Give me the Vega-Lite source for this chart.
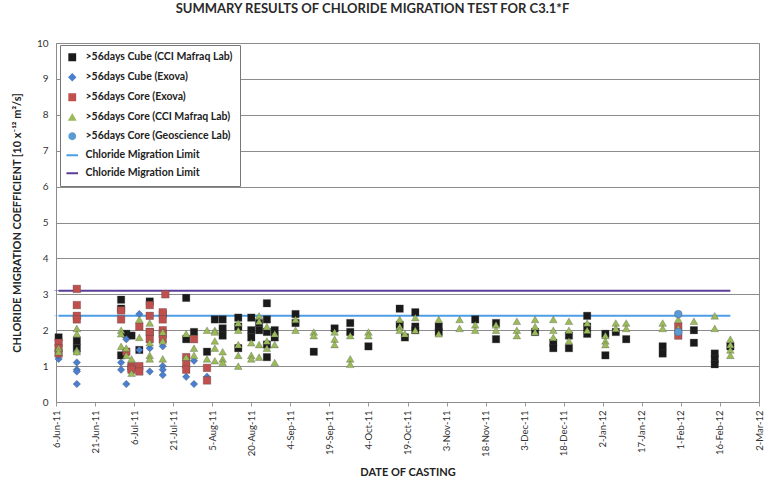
{
  "$schema": "https://vega.github.io/schema/vega-lite/v6.json",
  "width": 703,
  "height": 359,
  "autosize": "none",
  "padding": {"left": 56, "top": 43, "right": 18, "bottom": 80},
  "background": "white",
  "config": {
    "font": "Lato",
    "view": {"stroke": "#8c8c8c", "strokeWidth": 1},
    "axis": {"labelFont": "Lato", "titleFont": "Lato", "labelColor": "#333", "titleColor": "#222"}
  },
  "title": {
    "text": "SUMMARY RESULTS OF CHLORIDE MIGRATION TEST FOR C3.1*F",
    "fontSize": 13,
    "fontWeight": "bold",
    "color": "#2a2a2a",
    "anchor": "middle",
    "dx": -35,
    "offset": 22
  },
  "datasets": {
    "pts": [
      {"d": "2011-06-07", "v": 1.8, "s": "A"},
      {"d": "2011-06-14", "v": 1.7, "s": "A"},
      {"d": "2011-06-14", "v": 1.5, "s": "A"},
      {"d": "2011-07-01", "v": 2.85, "s": "A"},
      {"d": "2011-07-01", "v": 2.6, "s": "A"},
      {"d": "2011-07-01", "v": 1.3, "s": "A"},
      {"d": "2011-07-03", "v": 1.9, "s": "A"},
      {"d": "2011-07-05", "v": 1.85, "s": "A"},
      {"d": "2011-07-08", "v": 1.45, "s": "A"},
      {"d": "2011-07-12", "v": 2.8, "s": "A"},
      {"d": "2011-07-12", "v": 1.95, "s": "A"},
      {"d": "2011-07-17", "v": 2.45, "s": "A"},
      {"d": "2011-07-26", "v": 2.9, "s": "A"},
      {"d": "2011-07-26", "v": 1.75, "s": "A"},
      {"d": "2011-07-29", "v": 1.95, "s": "A"},
      {"d": "2011-08-03", "v": 1.4, "s": "A"},
      {"d": "2011-08-06", "v": 2.3, "s": "A"},
      {"d": "2011-08-09", "v": 2.3, "s": "A"},
      {"d": "2011-08-09", "v": 2.05, "s": "A"},
      {"d": "2011-08-09", "v": 1.85, "s": "A"},
      {"d": "2011-08-15", "v": 2.35, "s": "A"},
      {"d": "2011-08-15", "v": 2.1, "s": "A"},
      {"d": "2011-08-15", "v": 1.5, "s": "A"},
      {"d": "2011-08-20", "v": 2.35, "s": "A"},
      {"d": "2011-08-20", "v": 2.0, "s": "A"},
      {"d": "2011-08-20", "v": 1.8, "s": "A"},
      {"d": "2011-08-23", "v": 2.2, "s": "A"},
      {"d": "2011-08-23", "v": 2.0, "s": "A"},
      {"d": "2011-08-26", "v": 2.75, "s": "A"},
      {"d": "2011-08-26", "v": 2.3, "s": "A"},
      {"d": "2011-08-26", "v": 1.95, "s": "A"},
      {"d": "2011-08-26", "v": 1.6, "s": "A"},
      {"d": "2011-08-26", "v": 1.25, "s": "A"},
      {"d": "2011-08-29", "v": 2.0, "s": "A"},
      {"d": "2011-08-29", "v": 1.8, "s": "A"},
      {"d": "2011-09-06", "v": 2.45, "s": "A"},
      {"d": "2011-09-06", "v": 2.2, "s": "A"},
      {"d": "2011-09-13", "v": 1.4, "s": "A"},
      {"d": "2011-09-21", "v": 2.05, "s": "A"},
      {"d": "2011-09-27", "v": 2.2, "s": "A"},
      {"d": "2011-09-27", "v": 1.95, "s": "A"},
      {"d": "2011-10-04", "v": 1.55, "s": "A"},
      {"d": "2011-10-16", "v": 2.6, "s": "A"},
      {"d": "2011-10-16", "v": 2.15, "s": "A"},
      {"d": "2011-10-18", "v": 1.8, "s": "A"},
      {"d": "2011-10-22", "v": 2.5, "s": "A"},
      {"d": "2011-10-22", "v": 2.1, "s": "A"},
      {"d": "2011-10-22", "v": 2.0, "s": "A"},
      {"d": "2011-10-31", "v": 2.1, "s": "A"},
      {"d": "2011-10-31", "v": 1.95, "s": "A"},
      {"d": "2011-11-14", "v": 2.3, "s": "A"},
      {"d": "2011-11-22", "v": 2.2, "s": "A"},
      {"d": "2011-11-22", "v": 1.75, "s": "A"},
      {"d": "2011-12-07", "v": 1.95, "s": "A"},
      {"d": "2011-12-14", "v": 1.65, "s": "A"},
      {"d": "2011-12-14", "v": 1.5, "s": "A"},
      {"d": "2011-12-20", "v": 1.85, "s": "A"},
      {"d": "2011-12-20", "v": 1.5, "s": "A"},
      {"d": "2011-12-27", "v": 2.4, "s": "A"},
      {"d": "2011-12-27", "v": 2.1, "s": "A"},
      {"d": "2011-12-27", "v": 1.9, "s": "A"},
      {"d": "2012-01-03", "v": 1.9, "s": "A"},
      {"d": "2012-01-03", "v": 1.3, "s": "A"},
      {"d": "2012-01-07", "v": 1.95, "s": "A"},
      {"d": "2012-01-11", "v": 1.75, "s": "A"},
      {"d": "2012-01-25", "v": 1.55, "s": "A"},
      {"d": "2012-01-25", "v": 1.35, "s": "A"},
      {"d": "2012-02-06", "v": 2.0, "s": "A"},
      {"d": "2012-02-06", "v": 1.65, "s": "A"},
      {"d": "2012-02-14", "v": 1.35, "s": "A"},
      {"d": "2012-02-14", "v": 1.2, "s": "A"},
      {"d": "2012-02-14", "v": 1.05, "s": "A"},
      {"d": "2012-02-20", "v": 1.55, "s": "A"},

      {"d": "2011-06-07", "v": 1.2, "s": "B"},
      {"d": "2011-06-07", "v": 1.3, "s": "B"},
      {"d": "2011-06-14", "v": 1.4, "s": "B"},
      {"d": "2011-06-14", "v": 1.1, "s": "B"},
      {"d": "2011-06-14", "v": 0.9, "s": "B"},
      {"d": "2011-06-14", "v": 0.85, "s": "B"},
      {"d": "2011-06-14", "v": 0.5, "s": "B"},
      {"d": "2011-07-01", "v": 1.1, "s": "B"},
      {"d": "2011-07-01", "v": 0.9, "s": "B"},
      {"d": "2011-07-03", "v": 1.75, "s": "B"},
      {"d": "2011-07-03", "v": 0.5, "s": "B"},
      {"d": "2011-07-08", "v": 2.45, "s": "B"},
      {"d": "2011-07-08", "v": 1.45, "s": "B"},
      {"d": "2011-07-12", "v": 1.5, "s": "B"},
      {"d": "2011-07-12", "v": 0.85, "s": "B"},
      {"d": "2011-07-17", "v": 1.55, "s": "B"},
      {"d": "2011-07-17", "v": 1.0, "s": "B"},
      {"d": "2011-07-17", "v": 0.9, "s": "B"},
      {"d": "2011-07-17", "v": 0.75, "s": "B"},
      {"d": "2011-07-26", "v": 0.7, "s": "B"},
      {"d": "2011-07-29", "v": 1.15, "s": "B"},
      {"d": "2011-07-29", "v": 0.5, "s": "B"},
      {"d": "2011-08-03", "v": 0.7, "s": "B"},

      {"d": "2011-06-07", "v": 1.65, "s": "C"},
      {"d": "2011-06-07", "v": 1.5, "s": "C"},
      {"d": "2011-06-07", "v": 1.35, "s": "C"},
      {"d": "2011-06-14", "v": 3.15, "s": "C"},
      {"d": "2011-06-14", "v": 2.7, "s": "C"},
      {"d": "2011-06-14", "v": 2.4, "s": "C"},
      {"d": "2011-06-14", "v": 2.3, "s": "C"},
      {"d": "2011-07-01", "v": 2.55, "s": "C"},
      {"d": "2011-07-01", "v": 2.3, "s": "C"},
      {"d": "2011-07-03", "v": 1.4, "s": "C"},
      {"d": "2011-07-05", "v": 1.0, "s": "C"},
      {"d": "2011-07-05", "v": 0.95, "s": "C"},
      {"d": "2011-07-05", "v": 0.9, "s": "C"},
      {"d": "2011-07-08", "v": 2.1, "s": "C"},
      {"d": "2011-07-08", "v": 1.0, "s": "C"},
      {"d": "2011-07-08", "v": 0.85, "s": "C"},
      {"d": "2011-07-12", "v": 2.7, "s": "C"},
      {"d": "2011-07-12", "v": 2.4, "s": "C"},
      {"d": "2011-07-12", "v": 1.95, "s": "C"},
      {"d": "2011-07-12", "v": 1.75, "s": "C"},
      {"d": "2011-07-17", "v": 2.5, "s": "C"},
      {"d": "2011-07-17", "v": 2.3, "s": "C"},
      {"d": "2011-07-17", "v": 2.0, "s": "C"},
      {"d": "2011-07-17", "v": 1.9, "s": "C"},
      {"d": "2011-07-17", "v": 1.75, "s": "C"},
      {"d": "2011-07-18", "v": 3.0, "s": "C"},
      {"d": "2011-07-26", "v": 1.25, "s": "C"},
      {"d": "2011-07-26", "v": 1.05, "s": "C"},
      {"d": "2011-07-26", "v": 0.9, "s": "C"},
      {"d": "2011-07-29", "v": 1.75, "s": "C"},
      {"d": "2011-08-03", "v": 0.95, "s": "C"},
      {"d": "2011-08-03", "v": 0.6, "s": "C"},
      {"d": "2012-01-31", "v": 2.1, "s": "C"},
      {"d": "2012-01-31", "v": 1.85, "s": "C"},

      {"d": "2011-06-07", "v": 1.5, "s": "D"},
      {"d": "2011-06-07", "v": 1.4, "s": "D"},
      {"d": "2011-06-14", "v": 2.05, "s": "D"},
      {"d": "2011-06-14", "v": 1.9, "s": "D"},
      {"d": "2011-06-14", "v": 1.45, "s": "D"},
      {"d": "2011-06-14", "v": 1.4, "s": "D"},
      {"d": "2011-07-01", "v": 2.0, "s": "D"},
      {"d": "2011-07-01", "v": 1.9, "s": "D"},
      {"d": "2011-07-01", "v": 1.55, "s": "D"},
      {"d": "2011-07-03", "v": 1.5, "s": "D"},
      {"d": "2011-07-03", "v": 1.3, "s": "D"},
      {"d": "2011-07-05", "v": 0.8, "s": "D"},
      {"d": "2011-07-05", "v": 1.2, "s": "D"},
      {"d": "2011-07-08", "v": 2.3, "s": "D"},
      {"d": "2011-07-08", "v": 1.8, "s": "D"},
      {"d": "2011-07-12", "v": 2.2, "s": "D"},
      {"d": "2011-07-12", "v": 1.65, "s": "D"},
      {"d": "2011-07-12", "v": 1.3, "s": "D"},
      {"d": "2011-07-12", "v": 1.2, "s": "D"},
      {"d": "2011-07-17", "v": 1.95, "s": "D"},
      {"d": "2011-07-17", "v": 1.7, "s": "D"},
      {"d": "2011-07-17", "v": 1.2, "s": "D"},
      {"d": "2011-07-26", "v": 1.9, "s": "D"},
      {"d": "2011-07-26", "v": 1.25, "s": "D"},
      {"d": "2011-07-29", "v": 1.5, "s": "D"},
      {"d": "2011-07-29", "v": 1.3, "s": "D"},
      {"d": "2011-08-03", "v": 2.0, "s": "D"},
      {"d": "2011-08-03", "v": 1.2, "s": "D"},
      {"d": "2011-08-06", "v": 2.0, "s": "D"},
      {"d": "2011-08-06", "v": 1.95, "s": "D"},
      {"d": "2011-08-06", "v": 1.7, "s": "D"},
      {"d": "2011-08-06", "v": 1.5, "s": "D"},
      {"d": "2011-08-06", "v": 1.15, "s": "D"},
      {"d": "2011-08-09", "v": 1.4, "s": "D"},
      {"d": "2011-08-09", "v": 1.2, "s": "D"},
      {"d": "2011-08-09", "v": 1.1, "s": "D"},
      {"d": "2011-08-15", "v": 2.2, "s": "D"},
      {"d": "2011-08-15", "v": 2.0, "s": "D"},
      {"d": "2011-08-15", "v": 1.6, "s": "D"},
      {"d": "2011-08-15", "v": 1.3, "s": "D"},
      {"d": "2011-08-15", "v": 1.0, "s": "D"},
      {"d": "2011-08-20", "v": 1.65, "s": "D"},
      {"d": "2011-08-20", "v": 1.3, "s": "D"},
      {"d": "2011-08-20", "v": 1.2, "s": "D"},
      {"d": "2011-08-23", "v": 2.4, "s": "D"},
      {"d": "2011-08-23", "v": 2.25, "s": "D"},
      {"d": "2011-08-23", "v": 1.6, "s": "D"},
      {"d": "2011-08-23", "v": 1.25, "s": "D"},
      {"d": "2011-08-26", "v": 2.1, "s": "D"},
      {"d": "2011-08-26", "v": 1.7, "s": "D"},
      {"d": "2011-08-26", "v": 1.5, "s": "D"},
      {"d": "2011-08-29", "v": 1.9, "s": "D"},
      {"d": "2011-08-29", "v": 1.6, "s": "D"},
      {"d": "2011-08-29", "v": 1.1, "s": "D"},
      {"d": "2011-09-06", "v": 2.3, "s": "D"},
      {"d": "2011-09-06", "v": 2.0, "s": "D"},
      {"d": "2011-09-13", "v": 1.95, "s": "D"},
      {"d": "2011-09-13", "v": 1.85, "s": "D"},
      {"d": "2011-09-21", "v": 1.95, "s": "D"},
      {"d": "2011-09-21", "v": 1.75, "s": "D"},
      {"d": "2011-09-21", "v": 1.6, "s": "D"},
      {"d": "2011-09-27", "v": 1.85, "s": "D"},
      {"d": "2011-09-27", "v": 1.2, "s": "D"},
      {"d": "2011-09-27", "v": 1.05, "s": "D"},
      {"d": "2011-10-04", "v": 1.95, "s": "D"},
      {"d": "2011-10-04", "v": 1.85, "s": "D"},
      {"d": "2011-10-16", "v": 2.3, "s": "D"},
      {"d": "2011-10-16", "v": 2.1, "s": "D"},
      {"d": "2011-10-16", "v": 2.0, "s": "D"},
      {"d": "2011-10-18", "v": 1.9, "s": "D"},
      {"d": "2011-10-22", "v": 2.35, "s": "D"},
      {"d": "2011-10-22", "v": 2.0, "s": "D"},
      {"d": "2011-10-31", "v": 2.3, "s": "D"},
      {"d": "2011-10-31", "v": 1.9, "s": "D"},
      {"d": "2011-11-08", "v": 2.3, "s": "D"},
      {"d": "2011-11-08", "v": 2.05, "s": "D"},
      {"d": "2011-11-14", "v": 2.15, "s": "D"},
      {"d": "2011-11-14", "v": 2.0, "s": "D"},
      {"d": "2011-11-22", "v": 2.15, "s": "D"},
      {"d": "2011-11-22", "v": 2.0, "s": "D"},
      {"d": "2011-11-30", "v": 2.25, "s": "D"},
      {"d": "2011-11-30", "v": 2.0, "s": "D"},
      {"d": "2011-11-30", "v": 1.85, "s": "D"},
      {"d": "2011-12-07", "v": 2.3, "s": "D"},
      {"d": "2011-12-07", "v": 2.1, "s": "D"},
      {"d": "2011-12-07", "v": 1.95, "s": "D"},
      {"d": "2011-12-14", "v": 2.3, "s": "D"},
      {"d": "2011-12-14", "v": 2.0, "s": "D"},
      {"d": "2011-12-14", "v": 1.8, "s": "D"},
      {"d": "2011-12-20", "v": 2.25, "s": "D"},
      {"d": "2011-12-20", "v": 2.0, "s": "D"},
      {"d": "2011-12-20", "v": 1.7, "s": "D"},
      {"d": "2011-12-27", "v": 2.2, "s": "D"},
      {"d": "2011-12-27", "v": 2.0, "s": "D"},
      {"d": "2012-01-03", "v": 1.85, "s": "D"},
      {"d": "2012-01-03", "v": 1.7, "s": "D"},
      {"d": "2012-01-03", "v": 1.6, "s": "D"},
      {"d": "2012-01-07", "v": 2.2, "s": "D"},
      {"d": "2012-01-07", "v": 2.05, "s": "D"},
      {"d": "2012-01-11", "v": 2.2, "s": "D"},
      {"d": "2012-01-11", "v": 2.05, "s": "D"},
      {"d": "2012-01-25", "v": 2.2, "s": "D"},
      {"d": "2012-01-25", "v": 2.05, "s": "D"},
      {"d": "2012-01-31", "v": 2.3, "s": "D"},
      {"d": "2012-01-31", "v": 2.05, "s": "D"},
      {"d": "2012-02-06", "v": 2.25, "s": "D"},
      {"d": "2012-02-14", "v": 2.4, "s": "D"},
      {"d": "2012-02-14", "v": 2.05, "s": "D"},
      {"d": "2012-02-20", "v": 1.75, "s": "D"},
      {"d": "2012-02-20", "v": 1.6, "s": "D"},
      {"d": "2012-02-20", "v": 1.45, "s": "D"},
      {"d": "2012-02-20", "v": 1.3, "s": "D"},

      {"d": "2012-01-31", "v": 2.45, "s": "E"},
      {"d": "2012-01-31", "v": 1.95, "s": "E"}
    ],
    "lims": [
      {"d": "2011-06-07", "d2": "2012-02-20", "v": 2.4, "s": "F"},
      {"d": "2011-06-07", "d2": "2012-02-20", "v": 3.1, "s": "G"}
    ]
  },
  "encoding": {
    "x": {
      "field": "d", "type": "temporal",
      "scale": {"type": "utc", "domain": [{"year": 2011, "month": 6, "date": 6, "utc": true}, {"year": 2012, "month": 3, "date": 2, "utc": true}], "nice": false},
      "axis": {
        "title": "DATE OF CASTING",
        "titleFontSize": 11, "titleFontWeight": "bold", "titlePadding": 10,
        "format": "%-d-%b-%y", "labelAngle": -90, "labelFontSize": 9.5, "labelPadding": 4,
        "labelOverlap": false, "labelBound": false, "labelFlush": false,
        "grid": false, "tickSize": 4, "tickColor": "#999", "domainColor": "#8c8c8c",
        "values": [
          {"year": 2011, "month": 6, "date": 6, "utc": true},
          {"year": 2011, "month": 6, "date": 21, "utc": true},
          {"year": 2011, "month": 7, "date": 6, "utc": true},
          {"year": 2011, "month": 7, "date": 21, "utc": true},
          {"year": 2011, "month": 8, "date": 5, "utc": true},
          {"year": 2011, "month": 8, "date": 20, "utc": true},
          {"year": 2011, "month": 9, "date": 4, "utc": true},
          {"year": 2011, "month": 9, "date": 19, "utc": true},
          {"year": 2011, "month": 10, "date": 4, "utc": true},
          {"year": 2011, "month": 10, "date": 19, "utc": true},
          {"year": 2011, "month": 11, "date": 3, "utc": true},
          {"year": 2011, "month": 11, "date": 18, "utc": true},
          {"year": 2011, "month": 12, "date": 3, "utc": true},
          {"year": 2011, "month": 12, "date": 18, "utc": true},
          {"year": 2012, "month": 1, "date": 2, "utc": true},
          {"year": 2012, "month": 1, "date": 17, "utc": true},
          {"year": 2012, "month": 2, "date": 1, "utc": true},
          {"year": 2012, "month": 2, "date": 16, "utc": true},
          {"year": 2012, "month": 3, "date": 2, "utc": true}
        ]
      }
    },
    "y": {
      "field": "v", "type": "quantitative",
      "scale": {"domain": [0, 10], "nice": false},
      "axis": {
        "title": "CHLORIDE MIGRATION COEFFICIENT [10 x⁻¹² m²/s]",
        "titleFontSize": 11, "titleFontWeight": "bold", "titlePadding": 14,
        "values": [0, 1, 2, 3, 4, 5, 6, 7, 8, 9, 10],
        "labelOverlap": false,
        "labelFontSize": 10, "labelPadding": 8,
        "grid": true, "gridColor": "#8c8c8c", "gridWidth": 1,
        "ticks": false, "domainColor": "#8c8c8c"
      }
    }
  },
  "layer": [
    {
      "data": {"name": "lims"},
      "mark": {"type": "rule", "strokeWidth": 2},
      "encoding": {
        "x2": {"field": "d2"},
        "color": {"field": "s", "type": "nominal"},
        "shape": {"field": "s", "type": "nominal"}
      }
    },
    {
      "data": {"name": "pts"},
      "mark": {"type": "point", "filled": true, "opacity": 1, "stroke": "#444", "strokeWidth": 0.3},
      "encoding": {
        "color": {
          "field": "s", "type": "nominal",
          "scale": {
            "domain": ["A", "B", "C", "D", "E", "F", "G"],
            "range": ["#1a1a1a", "#4a7fcf", "#c0504d", "#9bbb59", "#5b9bd5", "#4e9ee6", "#5a3e99"]
          },
          "legend": {
            "title": null,
            "orient": "none", "legendX": 4, "legendY": 2,
            "labelExpr": "{'A': '>56days Cube (CCI Mafraq Lab)', 'B': '>56days Cube (Exova)', 'C': '>56days Core (Exova)', 'D': '>56days Core (CCI Mafraq Lab)', 'E': '>56days Core (Geoscience Lab)', 'F': 'Chloride Migration Limit', 'G': 'Chloride Migration Limit'}[datum.value]",
            "labelFontSize": 10.5, "labelFontWeight": "bold", "labelColor": "#222", "labelOffset": 8,
            "symbolSize": 40, "rowPadding": 7,
            "fillColor": "white", "strokeColor": "#777", "padding": 7,
            "encode": {"legend": {"update": {"stroke": {"value": "#777"}, "strokeWidth": {"value": 1}}}}
          }
        },
        "shape": {
          "field": "s", "type": "nominal",
          "scale": {
            "domain": ["A", "B", "C", "D", "E", "F", "G"],
            "range": ["square", "diamond", "square", "triangle-up", "circle", "M-1.6,-0.08H1.6V0.08H-1.6Z", "M-1.6,-0.08H1.6V0.08H-1.6Z"]
          }
        },
        "size": {
          "field": "s", "type": "nominal", "legend": null,
          "scale": {"domain": ["A", "B", "C", "D", "E"], "range": [55, 60, 95, 95, 75]}
        }
      }
    }
  ]
}
